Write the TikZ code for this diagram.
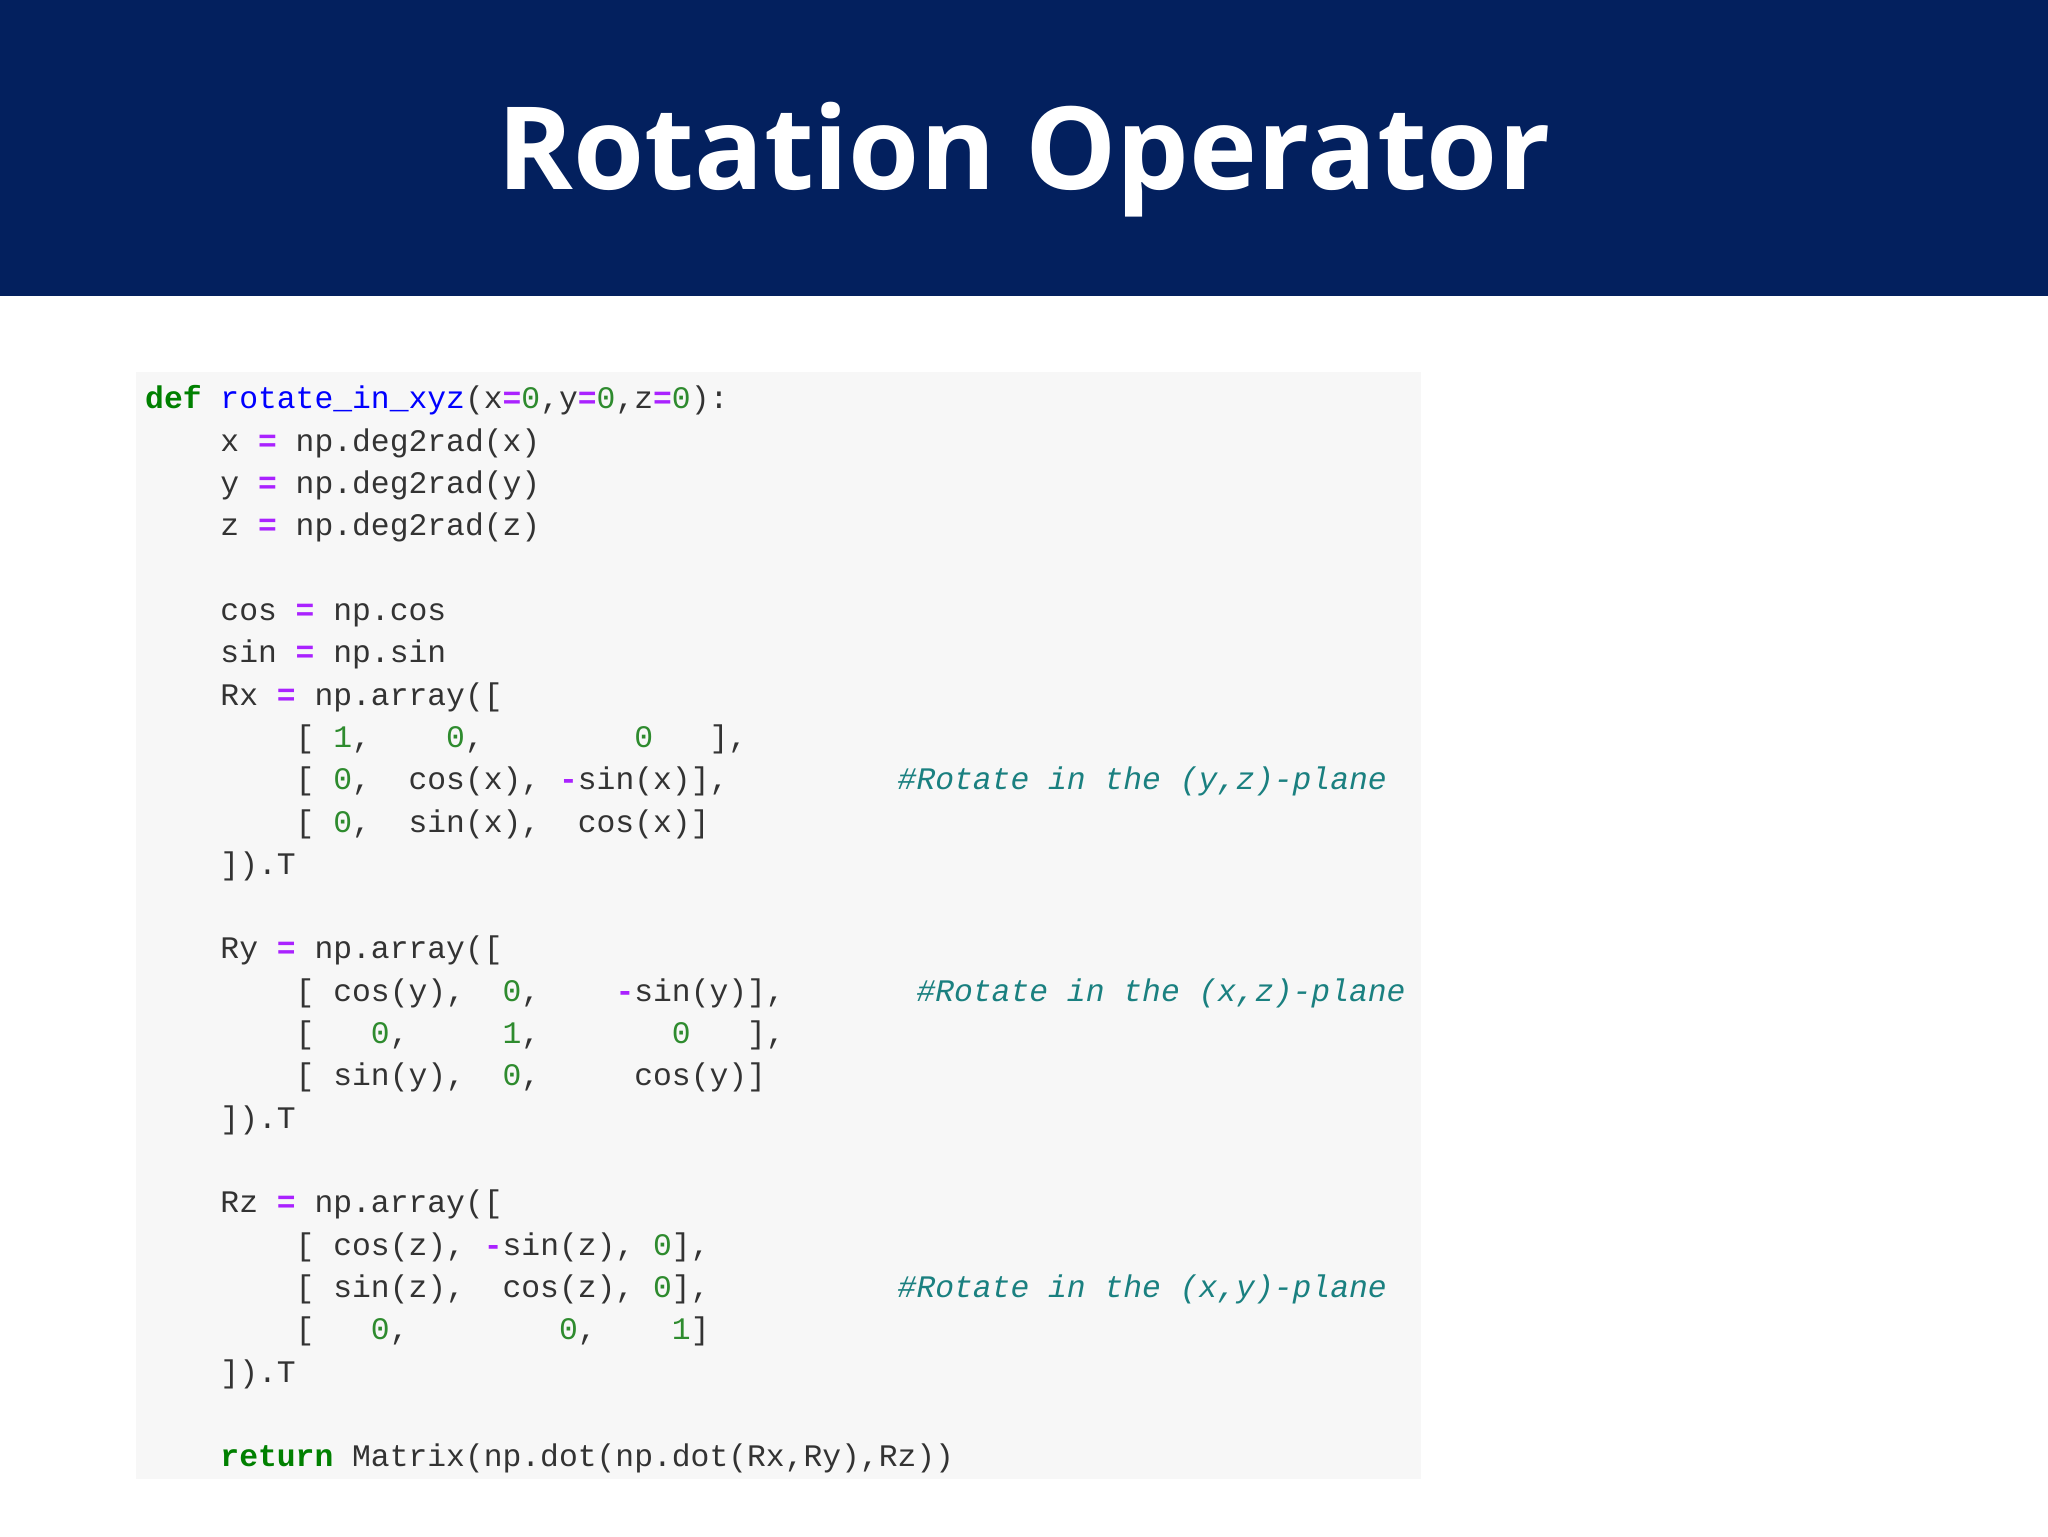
\documentclass[tikz,border=0pt]{standalone}
\usepackage{fontspec}
\setmonofont{Liberation Mono}
\newfontfamily\titlefont{Open Sans}
\definecolor{navy}{HTML}{03205E}
\definecolor{codebg}{HTML}{F7F7F7}
\definecolor{kwc}{HTML}{008000}
\definecolor{numc}{HTML}{2E8B2E}
\definecolor{opc}{HTML}{AA22FF}
\definecolor{fnc}{HTML}{0000FF}
\definecolor{cmc}{HTML}{1A8080}
\definecolor{txc}{HTML}{333333}
\newcommand\kw[1]{\textcolor{kwc}{\bfseries #1}}
\newcommand\nm[1]{\textcolor{numc}{#1}}
\newcommand\op[1]{\textcolor{opc}{\bfseries #1}}
\newcommand\fn[1]{\textcolor{fnc}{#1}}
\newcommand\cm[1]{\textcolor{cmc}{\itshape #1}}
\begin{document}
\begin{tikzpicture}[x=1pt,y=1pt,
  codeline/.style={anchor=base west,inner sep=0pt,font=\ttfamily\fontsize{24}{24}\selectfont,text=txc}]
\useasboundingbox (0,0) rectangle (1568,-1176);
\fill[white] (0,0) rectangle (1568,-1176);
\fill[navy] (0,0) rectangle (1568,-227);
\node[text=white,font=\titlefont\bfseries\fontsize{88}{88}\selectfont,anchor=base] (title) at (784,-145) {Rotation Operator};
\fill[codebg] (104,-285) rectangle (1088,-1132);
\foreach \i/\t in {
0/{\kw{def}~\fn{rotate\_in\_xyz}(x\op{=}\nm{0},y\op{=}\nm{0},z\op{=}\nm{0}):},
1/{~~~~x~\op{=}~np.deg2rad(x)},
2/{~~~~y~\op{=}~np.deg2rad(y)},
3/{~~~~z~\op{=}~np.deg2rad(z)},
5/{~~~~cos~\op{=}~np.cos},
6/{~~~~sin~\op{=}~np.sin},
7/{~~~~Rx~\op{=}~np.array([},
8/{~~~~~~~~[~\nm{1},~~~~\nm{0},~~~~~~~~\nm{0}~~~],},
9/{~~~~~~~~[~\nm{0},~~cos(x),~\op{-}sin(x)],~~~~~~~~~\cm{\#Rotate~in~the~(y,z)-plane}},
10/{~~~~~~~~[~\nm{0},~~sin(x),~~cos(x)]},
11/{~~~~]).T},
13/{~~~~Ry~\op{=}~np.array([},
14/{~~~~~~~~[~cos(y),~~\nm{0},~~~~\op{-}sin(y)],~~~~~~~\cm{\#Rotate~in~the~(x,z)-plane}},
15/{~~~~~~~~[~~~\nm{0},~~~~~\nm{1},~~~~~~~\nm{0}~~~],},
16/{~~~~~~~~[~sin(y),~~\nm{0},~~~~~cos(y)]},
17/{~~~~]).T},
19/{~~~~Rz~\op{=}~np.array([},
20/{~~~~~~~~[~cos(z),~\op{-}sin(z),~\nm{0}],},
21/{~~~~~~~~[~sin(z),~~cos(z),~\nm{0}],~~~~~~~~~~\cm{\#Rotate~in~the~(x,y)-plane}},
22/{~~~~~~~~[~~~\nm{0},~~~~~~~~\nm{0},~~~~\nm{1}]},
23/{~~~~]).T},
25/{~~~~\kw{return}~Matrix(np.dot(np.dot(Rx,Ry),Rz))}}
  \node[codeline] (line\i) at (111,-305-32.4*\i-8) {\t};
\end{tikzpicture}
\end{document}
